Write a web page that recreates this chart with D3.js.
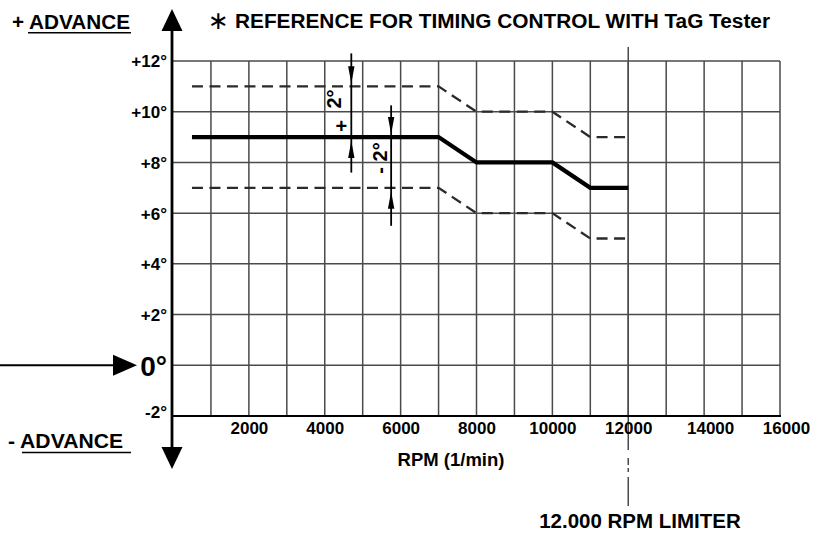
<!DOCTYPE html>
<html><head><meta charset="utf-8">
<script src="https://cdn.jsdelivr.net/npm/d3@7"></script>
<style>
html,body{margin:0;padding:0;background:#fff;}
svg{display:block;font-family:"Liberation Sans",Arial,Helvetica,sans-serif;font-weight:bold;}
</style></head>
<body>
<svg id="chart" width="817" height="534"></svg>
<script>
// ---- data ----
const rpm      = [500, 7000, 8000, 10000, 11000, 12000];
const nominal  = [9, 9, 8, 8, 7, 7];
const upperTol = [11, 11, 10, 10, 9, 9];
const lowerTol = [7, 7, 6, 6, 5, 5];
const xTicks   = [2000, 4000, 6000, 8000, 10000, 12000, 14000, 16000];
const yTicks   = [-2, 0, 2, 4, 6, 8, 10, 12];
const yTickLabels = ["-2°", "0°", "+2°", "+4°", "+6°", "+8°", "+10°", "+12°"];
const limiterRpm = 12000;
const plusAnno  = {rpm: 4700, from: 12.3, to: 7.6, tipTop: 11, tipBottom: 9};
const minusAnno = {rpm: 5750, from: 10.25, to: 5.5, tipTop: 9, tipBottom: 7};

// ---- layout ----
const svg = d3.select("#chart");
const L = 173, R = 780, T = 61, B = 416;
const x = d3.scaleLinear().domain([0, 16000]).range([L, R]);
const y = d3.scaleLinear().domain([-2, 12]).range([B, T]);
const gridColor = "#4a4a4a";

// grid
const grid = svg.append("g");
grid.selectAll("line.v").data(d3.range(1000, 16001, 1000)).join("line")
  .attr("x1", d => x(d)).attr("x2", d => x(d)).attr("y1", T).attr("y2", B)
  .attr("stroke", gridColor).attr("stroke-width", 1.5);
grid.selectAll("line.h").data(yTicks.filter(d => d > -2)).join("line")
  .attr("x1", L).attr("x2", R).attr("y1", d => y(d)).attr("y2", d => y(d))
  .attr("stroke", gridColor).attr("stroke-width", 1.5);

// limiter line
svg.append("line").attr("x1", x(limiterRpm)).attr("x2", x(limiterRpm))
  .attr("y1", T - 14).attr("y2", B + 34).attr("stroke", gridColor).attr("stroke-width", 1.5);
svg.append("line").attr("x1", x(limiterRpm)).attr("x2", x(limiterRpm))
  .attr("y1", B + 34).attr("y2", B + 90).attr("stroke", gridColor).attr("stroke-width", 1.5)
  .attr("stroke-dasharray", "0,8,7,3,4,5,60");

// x axis (bottom line) + labels
const xAxis = d3.axisBottom(x).tickValues(xTicks).tickSize(0).tickPadding(6).tickFormat(d3.format("d"));
const gx = svg.append("g").attr("transform", `translate(0,${B})`).call(xAxis);
gx.select(".domain").attr("stroke", "#000").attr("stroke-width", 2).attr("d", `M${L - 1},0H${R + 1}`);
gx.selectAll("text").attr("font-size", 17).attr("font-weight", "bold").attr("fill", "#000")
  .attr("font-family", "Liberation Sans, Arial, sans-serif")
  .attr("dx", d => d >= 14000 ? 6 : 0);

// y axis labels
const yAxis = d3.axisLeft(y).tickValues(yTicks).tickSize(0).tickPadding(5)
  .tickFormat((d, i) => yTickLabels[i]);
const gy = svg.append("g").attr("transform", `translate(${L - 1},0)`).call(yAxis);
gy.select(".domain").remove();
gy.selectAll("text").attr("font-size", d => d === 0 ? 28 : 17).attr("font-weight", "bold")
  .attr("fill", "#000").attr("font-family", "Liberation Sans, Arial, sans-serif")
  .attr("dy", d => d === 0 ? "0.36em" : d === -2 ? "0.1em" : "0.35em");

// vertical axis with arrows
const ax = L - 1;
svg.append("line").attr("x1", ax).attr("x2", ax).attr("y1", 26).attr("y2", 450)
  .attr("stroke", "#000").attr("stroke-width", 2.8);
svg.append("path").attr("d", `M${ax},9L${ax + 10.5},31L${ax - 10.5},31Z`).attr("fill", "#000");
svg.append("path").attr("d", `M${ax},469L${ax + 10.5},447L${ax - 10.5},447Z`).attr("fill", "#000");

// zero arrow from left
svg.append("line").attr("x1", 0).attr("x2", 116).attr("y1", y(0)).attr("y2", y(0))
  .attr("stroke", "#000").attr("stroke-width", 2);
svg.append("path").attr("d", `M137,${y(0)}L113,${y(0) - 10.5}L113,${y(0) + 10.5}Z`).attr("fill", "#000");

// curves
const line = d3.line().x(d => x(d[0])).y(d => y(d[1]));
svg.append("path").datum(d3.zip(rpm, upperTol)).attr("d", line).attr("fill", "none")
  .attr("stroke", "#2a2a2a").attr("stroke-width", 2.3).attr("stroke-dasharray", "11,6.5");
svg.append("path").datum(d3.zip(rpm, lowerTol)).attr("d", line).attr("fill", "none")
  .attr("stroke", "#2a2a2a").attr("stroke-width", 2.3).attr("stroke-dasharray", "11,6.5");
svg.append("path").datum(d3.zip(rpm, nominal)).attr("d", line).attr("fill", "none")
  .attr("stroke", "#000").attr("stroke-width", 4.2);

// tolerance dimension arrows
function dimArrow(a) {
  const cx = x(a.rpm);
  svg.append("line").attr("x1", cx).attr("x2", cx).attr("y1", y(a.from)).attr("y2", y(a.to))
    .attr("stroke", "#000").attr("stroke-width", 1.8);
  const t1 = y(a.tipTop) - 3, t2 = y(a.tipBottom) + 4;
  svg.append("path").attr("d", `M${cx},${t1}L${cx + 3.2},${t1 - 17}L${cx - 3.2},${t1 - 17}Z`).attr("fill", "#000");
  svg.append("path").attr("d", `M${cx},${t2}L${cx + 3.2},${t2 + 17}L${cx - 3.2},${t2 + 17}Z`).attr("fill", "#000");
}
dimArrow(plusAnno);
dimArrow(minusAnno);

const px = x(plusAnno.rpm);
svg.append("text").attr("transform", `translate(${px - 10},99) rotate(-90)`)
  .attr("text-anchor", "middle").attr("font-size", 20).text("2°");
svg.append("text").attr("x", px - 10).attr("y", 133).attr("text-anchor", "middle")
  .attr("font-size", 20).text("+");
const mx = x(minusAnno.rpm);
svg.append("text").attr("transform", `translate(${mx - 4},158) rotate(-90)`)
  .attr("text-anchor", "middle").attr("font-size", 20).text("- 2°");

// titles & labels
svg.append("text").attr("x", 218.5).attr("y", 29).attr("font-size", 25).attr("text-anchor", "middle")
  .attr("font-family", "DejaVu Sans").attr("font-weight", "normal").text("∗");
svg.append("text").attr("x", 235).attr("y", 28).attr("font-size", 20)
  .attr("textLength", 535).attr("lengthAdjust", "spacingAndGlyphs")
  .text("REFERENCE FOR TIMING CONTROL WITH TaG Tester");

svg.append("text").attr("x", 12).attr("y", 29).attr("font-size", 20)
  .attr("textLength", 118).attr("lengthAdjust", "spacingAndGlyphs").text("+ ADVANCE");
svg.append("line").attr("x1", 28).attr("x2", 131).attr("y1", 32.8).attr("y2", 32.8)
  .attr("stroke", "#000").attr("stroke-width", 1.6);
svg.append("text").attr("x", 8).attr("y", 448).attr("font-size", 20)
  .attr("textLength", 115).attr("lengthAdjust", "spacingAndGlyphs").text("- ADVANCE");
svg.append("line").attr("x1", 22).attr("x2", 131).attr("y1", 452.5).attr("y2", 452.5)
  .attr("stroke", "#000").attr("stroke-width", 1.6);

svg.append("text").attr("x", 451).attr("y", 466).attr("text-anchor", "middle")
  .attr("font-size", 18.5).text("RPM (1/min)");
svg.append("text").attr("x", 640).attr("y", 528).attr("text-anchor", "middle")
  .attr("font-size", 20.5).text("12.000 RPM LIMITER");
</script>
</body></html>
